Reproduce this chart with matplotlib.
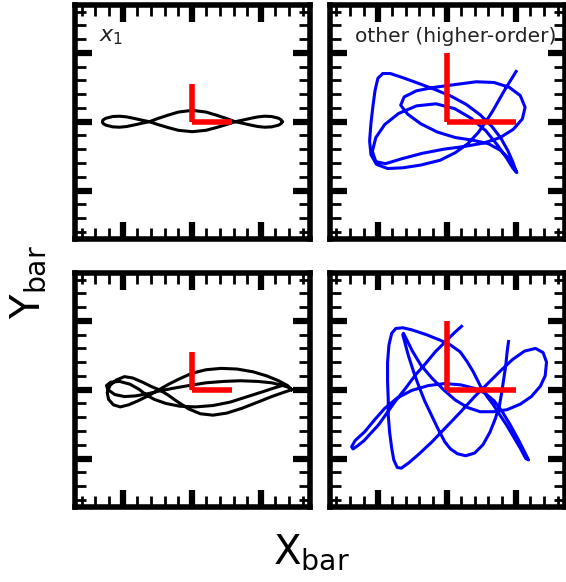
import matplotlib
matplotlib.use("Agg")
import matplotlib.pyplot as plt
from matplotlib.ticker import MultipleLocator

# ---- orbit traces in the bar frame (X_bar, Y_bar) ----
# top-left: x1 orbit
x1_x = [1.30, 1.29, 1.25, 1.15, 1.05, 0.95, 0.85, 0.74, 0.62, 0.50, 0.35, 0.20, 0.00,
        -0.20, -0.35, -0.50, -0.62, -0.74, -0.85, -0.95, -1.05, -1.15, -1.25, -1.29, -1.30,
        -1.29, -1.25, -1.15, -1.05, -0.95, -0.85, -0.74, -0.62, -0.50, -0.35, -0.20, 0.00,
        0.20, 0.35, 0.50, 0.62, 0.74, 0.85, 0.95, 1.05, 1.15, 1.25, 1.29, 1.30]
x1_y = [0.00, 0.025, 0.05, 0.075, 0.08, 0.07, 0.05, 0.025, 0.00, -0.04, -0.085, -0.125, -0.145,
        -0.125, -0.085, -0.04, 0.00, 0.025, 0.05, 0.07, 0.08, 0.075, 0.05, 0.025, 0.00,
        -0.025, -0.05, -0.075, -0.08, -0.07, -0.05, -0.025, 0.00, 0.045, 0.095, 0.14, 0.165,
        0.14, 0.095, 0.045, 0.00, -0.025, -0.05, -0.07, -0.08, -0.075, -0.05, -0.025, 0.00]

# bottom-left: x1 orbit, two passes
x1b_x = [1.44, 1.38, 1.25, 1.08, 0.88, 0.65, 0.42, 0.20, 0.00, -0.18, -0.34, -0.48, -0.62, -0.78,
         -0.92, -1.04, -1.14, -1.21, -1.23, -1.19, -1.10, -0.98, -0.86, -0.72, -0.60, -0.48, -0.36,
         -0.22, -0.05, 0.12, 0.30, 0.50, 0.72, 0.95, 1.15, 1.32, 1.44,
         1.38, 1.28, 1.15, 0.95, 0.70, 0.45, 0.20, -0.05, -0.28, -0.48, -0.65, -0.82, -0.98, -1.12,
         -1.22, -1.24, -1.18, -1.05, -0.90, -0.76, -0.66, -0.55, -0.38, -0.18, 0.05, 0.30, 0.55,
         0.80, 1.02, 1.20, 1.30]
x1b_y = [0.00, 0.06, 0.13, 0.20, 0.26, 0.30, 0.31, 0.29, 0.24, 0.16, 0.08, 0.00, -0.08, -0.16,
         -0.22, -0.25, -0.22, -0.14, -0.04, 0.06, 0.14, 0.19, 0.17, 0.11, 0.05, 0.00, -0.07,
         -0.17, -0.28, -0.35, -0.37, -0.34, -0.27, -0.18, -0.10, -0.04, 0.00,
         0.04, 0.07, 0.10, 0.12, 0.13, 0.12, 0.10, 0.06, 0.02, -0.02, -0.06, -0.09, -0.10, -0.07,
         0.00, 0.06, 0.11, 0.12, 0.08, 0.00, -0.08, -0.14, -0.20, -0.24, -0.25, -0.23, -0.18,
         -0.10, -0.03, 0.03, 0.06]

# top-right: higher-order orbit
hi_top_x = [1.00, 0.92, 0.84, 0.76, 0.67, 0.57, 0.45, 0.30, 0.12, -0.10, -0.38, -0.64, -0.86,
            -1.02, -1.10, -1.12, -1.10, -1.07, -1.04, -1.00, -0.93,
            -0.82, -0.64, -0.42, -0.18, 0.06, 0.28, 0.48, 0.65, 0.78, 0.88, 0.95, 0.99, 1.01,
            0.98, 0.90, 0.78, 0.60, 0.38, 0.12, -0.14, -0.38, -0.57, -0.67, -0.62, -0.44, -0.18,
            0.12, 0.42, 0.68, 0.90, 1.06, 1.13, 1.09, 0.96, 0.77, 0.53, 0.25, -0.05, -0.36,
            -0.66, -0.89, -1.03, -1.08, -1.03, -0.90, -0.70, -0.44, -0.16, 0.11, 0.35, 0.56,
            0.73, 0.87, 0.95, 0.99]
hi_top_y = [0.73, 0.60, 0.47, 0.33, 0.17, 0.01, -0.16, -0.32, -0.45, -0.56, -0.63, -0.67, -0.68,
            -0.62, -0.48, -0.28, -0.02, 0.24, 0.46, 0.63, 0.70,
            0.70, 0.64, 0.56, 0.47, 0.37, 0.25, 0.10, -0.07, -0.24, -0.42, -0.58, -0.69, -0.74,
            -0.68, -0.54, -0.42, -0.32, -0.27, -0.23, -0.15, -0.03, 0.11, 0.24, 0.36, 0.45, 0.50,
            0.54, 0.58, 0.57, 0.50, 0.38, 0.21, 0.04, -0.11, -0.23, -0.31, -0.36, -0.40, -0.46,
            -0.54, -0.61, -0.58, -0.43, -0.23, -0.04, 0.12, 0.23, 0.26, 0.19, 0.05, -0.13,
            -0.34, -0.54, -0.67, -0.72]

# bottom-right: higher-order orbit
hi_bot_x = [0.21, 0.12, -0.02, -0.17, -0.31, -0.46, -0.60, -0.75, -0.87, -0.99, -1.10, -1.20,
            -1.30, -1.36, -1.38, -1.33, -1.19, -1.05, -0.90, -0.72, -0.51, -0.27, -0.03, 0.20,
            0.40, 0.55, 0.68, 0.80, 0.92, 1.04, 1.13, 1.18, 1.14, 1.06, 0.96, 0.86, 0.76, 0.67,
            0.58, 0.50, 0.44, 0.38, 0.29, 0.19, 0.05, -0.10, -0.30, -0.51, -0.64, -0.74, -0.80,
            -0.84, -0.86, -0.86, -0.85, -0.85, -0.83, -0.80, -0.77, -0.72, -0.66, -0.55, -0.40,
            -0.22, 0.00, 0.20, 0.40, 0.60, 0.78, 0.95, 1.12, 1.28, 1.39, 1.44, 1.42, 1.35, 1.22,
            1.06, 0.87, 0.67, 0.48, 0.30, 0.12, -0.05, -0.22, -0.38, -0.50, -0.58, -0.63, -0.64,
            -0.60, -0.56, -0.48, -0.40, -0.32, -0.22, -0.13, -0.03, 0.05, 0.15, 0.27, 0.40, 0.52,
            0.62, 0.70, 0.76, 0.79, 0.82, 0.85, 0.87, 0.89]
hi_bot_y = [0.92, 0.84, 0.70, 0.55, 0.38, 0.21, 0.02, -0.17, -0.34, -0.51, -0.63, -0.74,
            -0.82, -0.86, -0.83, -0.74, -0.61, -0.44, -0.27, -0.12, -0.01, 0.06, 0.09, 0.07,
            0.02, -0.05, -0.16, -0.32, -0.52, -0.74, -0.92, -1.02, -1.00, -0.85, -0.68, -0.51,
            -0.36, -0.22, -0.10, 0.02, 0.14, 0.26, 0.41, 0.55, 0.65, 0.72, 0.80, 0.87, 0.90,
            0.89, 0.82, 0.65, 0.40, 0.12, -0.15, -0.37, -0.62, -0.85, -1.02, -1.13, -1.14, -1.06,
            -0.93, -0.76, -0.53, -0.32, -0.10, 0.10, 0.28, 0.44, 0.56, 0.60, 0.54, 0.40, 0.20,
            0.05, -0.10, -0.21, -0.29, -0.32, -0.32, -0.26, -0.15, 0.00, 0.17, 0.36, 0.56, 0.72,
            0.82, 0.80, 0.65, 0.50, 0.25, 0.03, -0.17, -0.38, -0.57, -0.76, -0.86, -0.93, -0.96,
            -0.92, -0.80, -0.62, -0.42, -0.22, -0.05, 0.15, 0.35, 0.55, 0.70]

panel_labels = ["$x_1$", "other (higher-order)"]

# red bar-axis marker: (length along X_bar, length along Y_bar)
marker_small = (0.58, 0.55)
marker_large = (1.0, 1.0)

W, H = 566, 582
fig = plt.figure(figsize=(W / 100, H / 100), dpi=100)

lefts = [74.7, 329.5]
tops = [4.7, 272.7]
size_w, size_h = 235.0, 234.0


def make_ax(col, row):
    ax = fig.add_axes([lefts[col] / W, 1 - (tops[row] + size_h) / H, size_w / W, size_h / H])
    ax.set_xlim(-1.7, 1.7)
    ax.set_ylim(-1.7, 1.7)
    ax.xaxis.set_major_locator(MultipleLocator(1))
    ax.yaxis.set_major_locator(MultipleLocator(1))
    ax.xaxis.set_minor_locator(MultipleLocator(0.2))
    ax.yaxis.set_minor_locator(MultipleLocator(0.2))
    ax.tick_params(which="both", direction="in", top=True, right=True,
                   labelbottom=False, labelleft=False)
    ax.tick_params(which="major", length=12, width=4.5)
    ax.tick_params(which="minor", length=8, width=2)
    for s in ax.spines.values():
        s.set_linewidth(4)
    return ax


def bar_marker(ax, lx, ly):
    ax.plot([0, 0], [0, ly], color="red", lw=4, solid_capstyle="butt", zorder=3)
    ax.plot([0, lx], [0, 0], color="red", lw=4, solid_capstyle="butt", zorder=3)


ax1 = make_ax(0, 0)
ax1.plot(x1_x, x1_y, color="black", lw=2.2, zorder=2, solid_joinstyle="round")
bar_marker(ax1, *marker_small)
ax1.text(0.105, 0.862, panel_labels[0], transform=ax1.transAxes, fontsize=16,
         va="center", ha="left", color="#222222")

ax2 = make_ax(1, 0)
ax2.plot(hi_top_x, hi_top_y, color="blue", lw=2.2, zorder=2, solid_joinstyle="round")
bar_marker(ax2, *marker_large)
ax2.text(0.535, 0.862, panel_labels[1], transform=ax2.transAxes, fontsize=14.5,
         va="center", ha="center", color="#222222")

ax3 = make_ax(0, 1)
ax3.plot(x1b_x, x1b_y, color="black", lw=2.2, zorder=2, solid_joinstyle="round")
bar_marker(ax3, *marker_small)

ax4 = make_ax(1, 1)
ax4.plot(hi_bot_x, hi_bot_y, color="blue", lw=2.2, zorder=2, solid_joinstyle="round")
bar_marker(ax4, *marker_large)

fig.text(28 / W, 1 - 282 / H, r"$\mathrm{Y_{bar}}$", rotation=90, fontsize=29,
         ha="center", va="center")
fig.text(311 / W, 1 - 552 / H, r"$\mathrm{X_{bar}}$", fontsize=29,
         ha="center", va="center")

fig.savefig("out.png", dpi=100)
